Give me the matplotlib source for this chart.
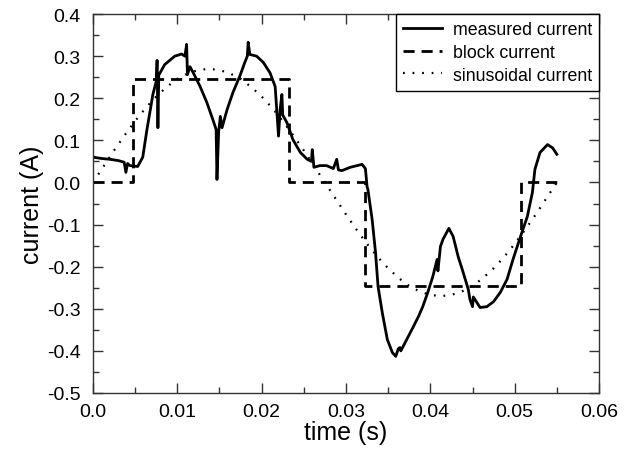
import matplotlib
matplotlib.use("Agg")
import matplotlib.pyplot as plt
from matplotlib.ticker import MultipleLocator

plt.rcParams['font.family'] = ['Liberation Sans', 'DejaVu Sans']

# measured current
t_meas = [0.0, 0.0010, 0.0020, 0.0030, 0.0037, 0.0039, 0.0041, 0.0044, 0.0053, 0.0059,
          0.0064, 0.0068, 0.0071, 0.0075, 0.0076, 0.0077, 0.0078, 0.0080, 0.0085, 0.0097,
          0.0105, 0.0109, 0.0111, 0.0112, 0.0115, 0.0119, 0.0127, 0.0135, 0.0142, 0.0146,
          0.0147, 0.0149, 0.0151, 0.0153, 0.0159, 0.0166, 0.0174, 0.0180, 0.0183, 0.0184,
          0.0186, 0.0194, 0.0202, 0.0210, 0.0216, 0.0220, 0.0222, 0.0224, 0.0225, 0.0230,
          0.0237, 0.0246, 0.0254, 0.0259, 0.0260, 0.0262, 0.0269, 0.0277, 0.0285, 0.0289,
          0.0291, 0.0295, 0.0305, 0.0319, 0.0323, 0.0325, 0.0326, 0.0331, 0.0335, 0.0338,
          0.0343, 0.0349, 0.0355, 0.0359, 0.0362, 0.0364, 0.0365, 0.0372, 0.0380, 0.0386,
          0.0391, 0.0397, 0.0403, 0.0408, 0.0409, 0.0412, 0.0415, 0.0422, 0.0427, 0.0433,
          0.0439, 0.0445, 0.0447, 0.0450, 0.0451, 0.0459, 0.0467, 0.0475, 0.0483, 0.0491,
          0.0498, 0.0507, 0.0515, 0.0521, 0.0524, 0.0530, 0.0539, 0.0545, 0.0550]
i_meas = [0.060, 0.057, 0.055, 0.052, 0.048, 0.024, 0.045, 0.040, 0.038, 0.060,
          0.126, 0.173, 0.209, 0.240, 0.290, 0.130, 0.255, 0.262, 0.280, 0.300,
          0.305, 0.300, 0.328, 0.256, 0.275, 0.260, 0.228, 0.190, 0.150, 0.126,
          0.007, 0.120, 0.157, 0.130, 0.173, 0.214, 0.252, 0.285, 0.300, 0.333,
          0.304, 0.300, 0.285, 0.260, 0.228, 0.110, 0.175, 0.209, 0.160, 0.142,
          0.102, 0.071, 0.055, 0.050, 0.078, 0.036, 0.040, 0.040, 0.033, 0.055,
          0.030, 0.028, 0.036, 0.043, 0.033, -0.010, -0.017, -0.088, -0.166, -0.247,
          -0.309, -0.373, -0.404, -0.413, -0.395, -0.392, -0.400, -0.373, -0.342, -0.318,
          -0.295, -0.261, -0.223, -0.183, -0.210, -0.152, -0.135, -0.109, -0.128, -0.176,
          -0.214, -0.254, -0.278, -0.295, -0.272, -0.297, -0.295, -0.283, -0.261, -0.230,
          -0.183, -0.128, -0.081, -0.024, 0.031, 0.071, 0.090, 0.082, 0.067]

# block current
t_block = [0.0, 0.0047, 0.0047, 0.0232, 0.0232, 0.0323, 0.0323, 0.0507, 0.0507, 0.0552]
i_block = [0.0, 0.0, 0.245, 0.245, 0.0, 0.0, -0.245, -0.245, 0.0, 0.0]

# sinusoidal current
t_sin = [k * 0.00125 for k in range(45)]
i_sin = [0.0, 0.038, 0.076, 0.112, 0.146, 0.177, 0.204, 0.227, 0.246, 0.259, 0.267,
         0.270, 0.267, 0.259, 0.246, 0.227, 0.204, 0.177, 0.146, 0.112, 0.076, 0.038,
         0.0, -0.038, -0.076, -0.112, -0.146, -0.177, -0.204, -0.227, -0.246, -0.259,
         -0.267, -0.270, -0.267, -0.259, -0.246, -0.227, -0.204, -0.177, -0.146, -0.112,
         -0.076, -0.038, 0.0]

fig = plt.figure(figsize=(6.3, 4.56), dpi=100)
ax = fig.add_axes([0.1476, 0.136, 0.8032, 0.831])

ax.plot(t_meas, i_meas, color='black', lw=2.0, label='measured current')
ax.plot(t_block, i_block, color='black', lw=2.0, ls=(0, (4, 2.5)), label='block current')
ax.plot(t_sin, i_sin, color='black', lw=1.6, ls=(0, (0.8, 3.5)), label='sinusoidal current')

ax.set_xlim(0, 0.06)
ax.set_ylim(-0.5, 0.4)
ax.xaxis.set_major_locator(MultipleLocator(0.01))
ax.xaxis.set_minor_locator(MultipleLocator(0.005))
ax.yaxis.set_major_locator(MultipleLocator(0.1))
ax.yaxis.set_minor_locator(MultipleLocator(0.05))
ax.set_xticklabels(['%.2f' % v if v > 0 else '0.0' for v in ax.get_xticks()])
ax.set_yticklabels(['%.1f' % v for v in ax.get_yticks()])
ax.tick_params(which='both', direction='in', top=True, right=True, labelsize=14,
               color='#333333', width=1)
ax.tick_params(which='major', length=7)
ax.tick_params(which='minor', length=4)
ax.tick_params(axis='x', which='major', pad=7)
ax.tick_params(axis='y', which='major', pad=9)
for s in ax.spines.values():
    s.set_color('#333333')
    s.set_linewidth(1.0)

ax.set_xlabel('time (s)', fontsize=18, labelpad=0)
ax.set_ylabel('current (A)', fontsize=18, labelpad=2)

leg = ax.legend(loc='upper right', fontsize=12.8, borderaxespad=0, fancybox=False,
                handlelength=2.2, handletextpad=0.6, framealpha=1, borderpad=0.4,
                labelspacing=0.32)
leg.get_frame().set_edgecolor('black')
leg.get_frame().set_linewidth(1.0)

fig.savefig('out.png', dpi=100)
